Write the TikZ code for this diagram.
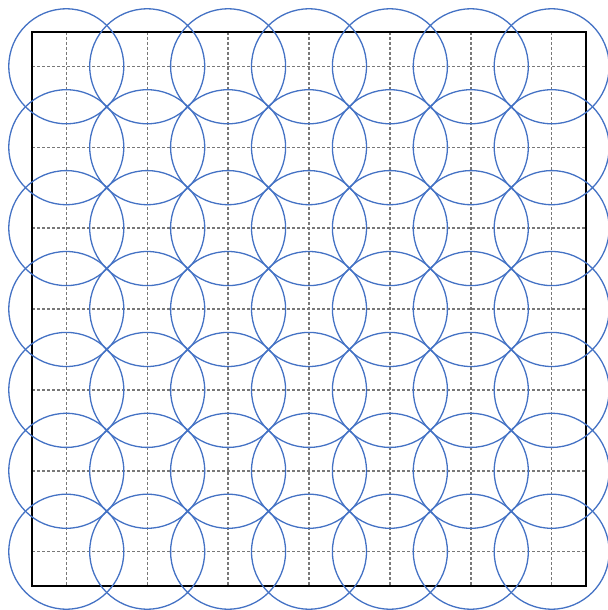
\documentclass[tikz,border=0pt]{standalone}
\definecolor{ringblue}{RGB}{68,114,196}
\definecolor{gridgray}{RGB}{120,120,120}
\begin{document}
\begin{tikzpicture}[x=0.5pt, y=-0.5pt]
    \useasboundingbox (0,0) rectangle (608,610);
    % Grid
    \begin{scope}[dash pattern=on 1.5pt off 1pt, color=gridgray, line width=0.7pt]
      \foreach \k in {0,1,...,6}{
      \draw ({66.3+80.9*\k},32) -- ({66.3+80.9*\k},586);
      \draw (32,{66.3+80.9*\k}) -- (586,{66.3+80.9*\k});
      }
    \end{scope}

    % Frame
      \draw[line width=0.8pt] (32,32) rectangle (586,586);

    % Circles
      \foreach \i in {0,1,...,6}{
      \foreach \j in {0,1,...,6}{
       \draw[color=ringblue, line width=0.65pt] ({66.3+80.9*\i},{66.3+80.9*\j}) circle [radius=28.75pt];
      }
      }
  \end{tikzpicture}
\end{document}
